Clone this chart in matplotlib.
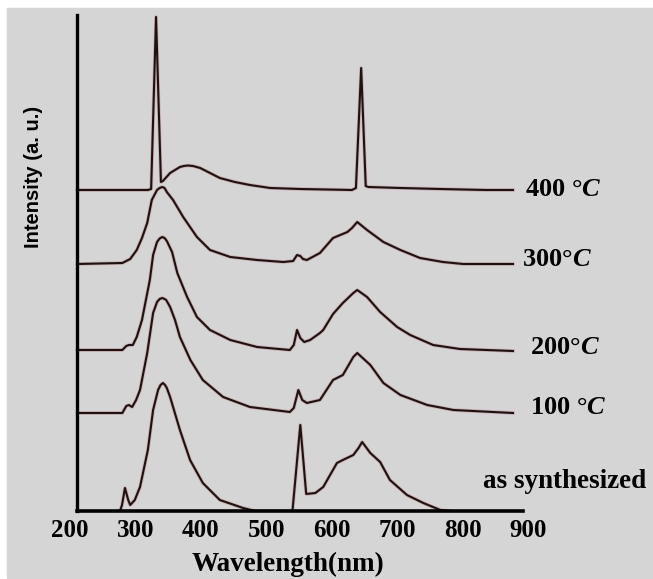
import matplotlib.pyplot as plt
from matplotlib.patches import Rectangle

# wavelength (nm) / intensity (a.u.)
wl_400 = [211, 319, 324, 331.5, 339, 342, 353, 368, 374, 380, 388, 399, 429, 452, 475,
          506, 552, 631, 637, 645, 652, 656, 705, 766, 835, 877]
int_400 = [321, 321, 322, 494, 329, 330, 338, 344, 345, 345.5, 345, 343, 333, 329, 326,
           323, 322, 321, 323, 443, 325, 324, 323, 322, 321, 321]

wl_300 = [211, 280, 292, 302, 310, 318, 325, 333, 337, 341, 344.5, 348, 357.5, 373, 394,
          414, 445, 486, 526, 541, 547, 552, 556, 562, 582, 602, 624, 631, 639, 654,
          679, 705, 735, 770, 801, 877]
int_300 = [247, 248, 252, 261, 273, 288, 311, 321, 323, 324, 323, 319, 311, 294, 274,
           261, 254, 251, 249, 250, 256, 255, 252, 251, 258, 273, 279, 283, 289, 281,
           269, 261, 253, 249, 247, 247]

wl_200 = [211, 280, 286, 290, 296, 302, 310, 316, 319, 322, 327, 333, 337, 341, 344.5,
          348, 356, 364, 379, 394, 414, 445, 486, 536, 542, 547, 552, 558, 567, 582,
          587, 602, 617, 633, 639, 654, 674, 700, 720, 755, 796, 877]
int_200 = [161, 161, 165, 166, 166, 174, 191, 211, 221, 231, 256, 269, 272.5, 274, 273,
           270, 259, 238, 214, 194, 181, 171, 164, 161, 166, 181, 173, 169, 171, 178,
           181, 197, 208, 218, 221, 214, 199, 184, 176, 166, 162, 160]

wl_100 = [211, 280, 286, 290, 295, 301, 307, 318, 327, 333, 337, 341, 344.5, 347, 353,
          360.5, 368, 384, 403, 434, 475, 536, 542, 549, 555, 562, 582, 602, 617, 633,
          639, 659, 679, 705, 746, 786, 877]
int_100 = [98, 98, 105, 106, 104, 111, 121, 158, 198, 209, 212, 213, 212, 211, 204,
           191, 174, 151, 131, 114, 104, 99, 103, 121, 111, 108, 111, 131, 136, 154,
           158, 146, 128, 116, 106, 101, 98]

wl_as = [276.5, 279.5, 284, 289, 292, 299, 307, 319, 327, 334.6, 338.4, 342, 345.3, 348,
         353, 368, 383.5, 403, 429, 464.5, 483, 540, 552, 561, 575, 587, 608, 617, 633,
         641, 646.5, 659, 674, 689, 715, 740, 766, 781]
int_as = [0, 6, 23, 11, 6, 11, 24, 61, 101, 121, 126, 128, 126, 123,
          114, 81, 51, 28, 11, 3, 0, 0, 86, 17, 18, 24, 48, 51, 56,
          63, 69, 58, 49, 31, 16, 8, 1, 0]

series = [(wl_400, int_400), (wl_300, int_300), (wl_200, int_200),
          (wl_100, int_100), (wl_as, int_as)]
labels = [r'400 °$\mathit{C}$', r'300°$\mathit{C}$', r'200°$\mathit{C}$',
          r'100 °$\mathit{C}$', 'as synthesized']
label_pos = [(896, 321), (891, 251), (903, 163), (903, 103), (831, 23)]
xticks = [200, 300, 400, 500, 600, 700, 800, 900]

plt.rcParams['mathtext.fontset'] = 'custom'
plt.rcParams['mathtext.rm'] = 'Liberation Serif:bold'
plt.rcParams['mathtext.it'] = 'Liberation Serif:italic:bold'

fig = plt.figure(figsize=(6.53, 5.79), dpi=100, facecolor='white')
fig.patches.append(Rectangle((7/653, 1/579), 1, 570/579, transform=fig.transFigure,
                             color='#d5d5d5', zorder=-1))
ax = fig.add_axes([70/653, 68/579, 458/653, 496/579])
ax.set_facecolor('none')

for wl, inten in series:
    ax.plot(wl, inten, color='#c07878', lw=2.6, alpha=0.45, solid_joinstyle='round')
    ax.plot(wl, inten, color='#1c1212', lw=1.5, solid_joinstyle='round')

for lab, (x, y) in zip(labels, label_pos):
    if lab == 'as synthesized':
        ax.text(x, y, lab, family='Liberation Serif', weight='bold', fontsize=19.5,
                va='baseline', ha='left', clip_on=False)
    else:
        ax.text(x, y, lab, family='Liberation Serif', weight='bold', fontsize=19,
                va='center', ha='left', clip_on=False)

ax.set_xlim(200, 900)
ax.set_ylim(0, 496)
for s in ['top', 'right']:
    ax.spines[s].set_visible(False)
ax.spines['bottom'].set_bounds(210.7, 892.6)
ax.spines['left'].set_position(('data', 210.7))
ax.spines['bottom'].set_linewidth(2.6)
ax.spines['left'].set_linewidth(2.4)
ax.set_xticks(xticks)
ax.set_xticklabels([str(t) for t in xticks], family='Liberation Serif',
                   weight='bold', fontsize=18)
ax.set_yticks([])
ax.tick_params(axis='x', length=0, pad=6)

ax.set_xlabel('Wavelength(nm)', family='Liberation Serif', weight='bold', fontsize=19.5)
ax.xaxis.set_label_coords(0.476, -0.083)
ax.set_ylabel('Intensity (a. u.)', family='Liberation Sans', weight='bold', fontsize=14.5)
ax.yaxis.set_label_coords(-0.06, 0.673)

fig.savefig('out.png', dpi=100)
